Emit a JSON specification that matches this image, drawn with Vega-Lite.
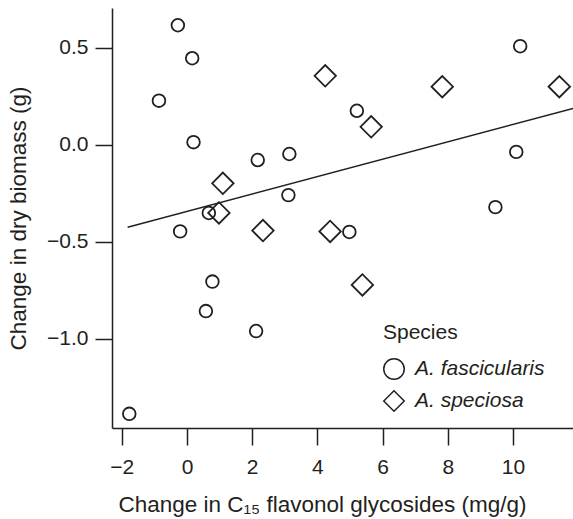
{
  "$schema": "https://vega.github.io/schema/vega-lite/v6.json",
  "width": 461,
  "height": 420,
  "autosize": {"type": "none"},
  "padding": {"left": 112, "top": 8, "right": 0, "bottom": 91},
  "background": "white",
  "config": {
    "view": {"stroke": null},
    "font": "Liberation Sans",
    "axis": {
      "grid": false,
      "domainColor": "#231f20",
      "domainWidth": 1.5,
      "tickColor": "#231f20",
      "tickWidth": 1.5,
      "tickSize": 17,
      "labelColor": "#231f20",
      "titleColor": "#231f20",
      "labelFont": "Liberation Sans",
      "titleFont": "Liberation Sans",
      "labelFontSize": 21,
      "titleFontSize": 22.5,
      "titleFontWeight": "normal"
    },
    "legend": {
      "titleFont": "Liberation Sans",
      "labelFont": "Liberation Sans"
    }
  },
  "datasets": {
    "pts": [
      {"x": -0.28, "y": 0.617, "species": "A. fascicularis"},
      {"x": 0.16, "y": 0.447, "species": "A. fascicularis"},
      {"x": -0.86, "y": 0.228, "species": "A. fascicularis"},
      {"x": 0.2, "y": 0.014, "species": "A. fascicularis"},
      {"x": 2.17, "y": -0.078, "species": "A. fascicularis"},
      {"x": 3.14, "y": -0.047, "species": "A. fascicularis"},
      {"x": 3.11, "y": -0.259, "species": "A. fascicularis"},
      {"x": 0.67, "y": -0.351, "species": "A. fascicularis"},
      {"x": -0.21, "y": -0.446, "species": "A. fascicularis"},
      {"x": 10.22, "y": 0.509, "species": "A. fascicularis"},
      {"x": 5.21, "y": 0.176, "species": "A. fascicularis"},
      {"x": 10.1, "y": -0.036, "species": "A. fascicularis"},
      {"x": 9.46, "y": -0.321, "species": "A. fascicularis"},
      {"x": 4.98, "y": -0.449, "species": "A. fascicularis"},
      {"x": 0.78, "y": -0.705, "species": "A. fascicularis"},
      {"x": 0.58, "y": -0.857, "species": "A. fascicularis"},
      {"x": 2.12, "y": -0.96, "species": "A. fascicularis"},
      {"x": -1.77, "y": -1.387, "species": "A. fascicularis"},
      {"x": 1.1, "y": -0.198, "species": "A. speciosa"},
      {"x": 0.98, "y": -0.351, "species": "A. speciosa"},
      {"x": 2.33, "y": -0.442, "species": "A. speciosa"},
      {"x": 4.24, "y": 0.356, "species": "A. speciosa"},
      {"x": 7.83, "y": 0.3, "species": "A. speciosa"},
      {"x": 11.42, "y": 0.3, "species": "A. speciosa"},
      {"x": 5.65, "y": 0.093, "species": "A. speciosa"},
      {"x": 4.39, "y": -0.446, "species": "A. speciosa"},
      {"x": 5.38, "y": -0.722, "species": "A. speciosa"}
    ],
    "fit": [
      {"x": -1.82, "y": -0.425},
      {"x": 11.84, "y": 0.188}
    ]
  },
  "layer": [
    {
      "data": {"name": "fit"},
      "mark": {"type": "line", "color": "#231f20", "strokeWidth": 1.5},
      "encoding": {
        "x": {"field": "x", "type": "quantitative", "scale": {"domain": [-2.3, 11.84], "nice": false, "zero": false}},
        "y": {"field": "y", "type": "quantitative", "scale": {"domain": [-1.46, 0.706], "nice": false, "zero": false}}
      }
    },
    {
      "data": {"name": "pts"},
      "mark": {"type": "point", "filled": false, "color": "#231f20", "strokeWidth": 1.8, "opacity": 1},
      "encoding": {
        "x": {
          "field": "x", "type": "quantitative",
          "scale": {"domain": [-2.3, 11.84], "nice": false, "zero": false},
          "axis": {
            "values": [-2, 0, 2, 4, 6, 8, 10],
            "format": "d",
            "labelPadding": 11,
            "title": "Change in C₁₅ flavonol glycosides (mg/g)",
            "titlePadding": 16,
            "titleAnchor": "middle",
            "titleX": 210
          }
        },
        "y": {
          "field": "y", "type": "quantitative",
          "scale": {"domain": [-1.46, 0.706], "nice": false, "zero": false},
          "axis": {
            "values": [-1, -0.5, 0, 0.5],
            "format": ".1f",
            "labelPadding": 7,
            "title": "Change in dry biomass (g)",
            "titlePadding": 16
          }
        },
        "shape": {
          "field": "species", "type": "nominal",
          "scale": {"domain": ["A. fascicularis", "A. speciosa"], "range": ["circle", "diamond"]},
          "legend": {
            "title": "Species",
            "orient": "none",
            "legendX": 271,
            "legendY": 314,
            "padding": 0,
            "titleFontSize": 21,
            "titleFontWeight": "normal",
            "titleColor": "#231f20",
            "titlePadding": 15,
            "labelFontSize": 21,
            "labelFontStyle": "italic",
            "labelColor": "#231f20",
            "labelOffset": 10,
            "symbolSize": 420,
            "symbolStrokeWidth": 1.5,
            "symbolStrokeColor": "#231f20",
            "symbolFillColor": "transparent",
            "rowPadding": 4
          }
        },
        "size": {
          "condition": {"test": "datum.species === 'A. speciosa'", "value": 460},
          "value": 160
        }
      }
    }
  ]
}
